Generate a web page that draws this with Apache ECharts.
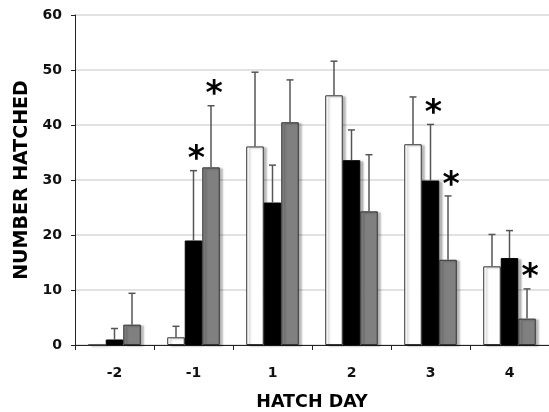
<!DOCTYPE html>
<html><head><meta charset="utf-8">
<script src="https://cdn.jsdelivr.net/npm/echarts@6/dist/echarts.min.js"></script>
<style>html,body{margin:0;padding:0;background:#fff;}#c{width:549px;height:412px;}</style>
</head><body><div id="c"></div>
<script>
const categories = ['-2', '-1', '1', '2', '3', '4'];
const yTicks = [0, 10, 20, 30, 40, 50, 60];
const whiteVals = [0, 1.4, 36.1, 45.4, 36.5, 14.3];
const whiteErr  = [null, 2.0, 13.5, 6.2, 8.6, 5.8];
const blackVals = [1.0, 19.0, 25.9, 33.6, 29.9, 15.8];
const blackErr  = [2.0, 12.7, 6.8, 5.5, 10.2, 5.0];
const grayVals  = [3.7, 32.3, 40.5, 24.3, 15.5, 4.8];
const grayErr   = [5.7, 11.2, 7.7, 10.3, 11.6, 5.4];
const whiteSig  = [false, false, false, false, false, false];
const blackSig  = [false, true, false, false, true, false];
const graySig   = [false, true, false, false, true, true];

const FONT = 'DejaVu Sans';
const CAT_GAP = 0.335;
const groups = [
  {vals: whiteVals, err: whiteErr, sig: whiteSig, color: '#ffffff', border: '#333333'},
  {vals: blackVals, err: blackErr, sig: blackSig, color: '#000000', border: '#000000'},
  {vals: grayVals,  err: grayErr,  sig: graySig,  color: '#808080', border: '#333333'}
];

const series = [];
groups.forEach((g, gi) => {
  series.push({
    type: 'bar', data: g.vals, barGap: '0%', barCategoryGap: (CAT_GAP * 100) + '%',
    itemStyle: {color: g.color, borderColor: g.border, borderWidth: 1,
      shadowColor: 'rgba(0,0,0,0.28)', shadowBlur: 2, shadowOffsetX: 3, shadowOffsetY: 1},
    z: 2, silent: true
  });
});
groups.forEach((g, gi) => {
  series.push({
    type: 'custom', z: 5, silent: true,
    data: g.vals.map((v, i) => [i, v, g.err[i] == null ? 0 : g.err[i], g.sig[i] ? 1 : 0, g.err[i] == null ? 0 : 1]),
    renderItem: function (params, api) {
      const i = api.value(0), v = api.value(1), e = api.value(2), s = api.value(3), has = api.value(4);
      const catW = api.size([1, 0])[0];
      const bw = catW * (1 - CAT_GAP) / 3;
      const base = api.coord([i, v]);
      const x = base[0] + (gi - 1) * bw;
      const top = api.coord([i, v + e])[1];
      const children = [];
      if (has) {
        const st = {stroke: '#555555', lineWidth: 1.5};
        children.push({type: 'line', shape: {x1: x, y1: base[1], x2: x, y2: top}, style: st});
        children.push({type: 'line', shape: {x1: x - 3.5, y1: top, x2: x + 3.5, y2: top}, style: st});
      }
      if (s) {
        children.push({type: 'text', x: x + 3, y: top - 10,
          style: {text: '*', fontFamily: FONT, fontWeight: 'bold', fontSize: 33, fill: '#000', align: 'center', verticalAlign: 'middle'}});
      }
      return {type: 'group', children: children};
    }
  });
});

const chart = echarts.init(document.getElementById('c'), null, {renderer: 'canvas'});
chart.setOption({
  animation: false,
  backgroundColor: '#ffffff',
  grid: {left: 75, right: 0, top: 15, bottom: 67, containLabel: false, outerBoundsMode: 'none'},
  xAxis: {
    type: 'category', data: categories,
    name: 'HATCH DAY', nameLocation: 'middle', nameGap: 48,
    nameTextStyle: {fontFamily: FONT, fontWeight: 'bold', fontSize: 17.5, color: '#000'},
    axisLine: {lineStyle: {color: '#222', width: 1}},
    axisTick: {show: true, length: 5, alignWithLabel: false, lineStyle: {color: '#222'}},
    axisLabel: {fontFamily: FONT, fontWeight: 'bold', fontSize: 14, color: '#111', margin: 21}
  },
  yAxis: {
    type: 'value', min: 0, max: 60, interval: 10,
    name: 'NUMBER HATCHED', nameLocation: 'middle', nameGap: 38, nameRotate: 90,
    nameTextStyle: {fontFamily: FONT, fontWeight: 'bold', fontSize: 19, color: '#000'},
    axisLine: {show: true, lineStyle: {color: '#222', width: 1}},
    axisTick: {show: true, length: 4, lineStyle: {color: '#222'}},
    axisLabel: {fontFamily: FONT, fontWeight: 'bold', fontSize: 14, color: '#111', margin: 13,
      formatter: v => yTicks.indexOf(v) >= 0 ? String(v) : ''},
    splitLine: {lineStyle: {color: '#d9d9d9', width: 1.5}}
  },
  series: series
});
</script></body></html>
